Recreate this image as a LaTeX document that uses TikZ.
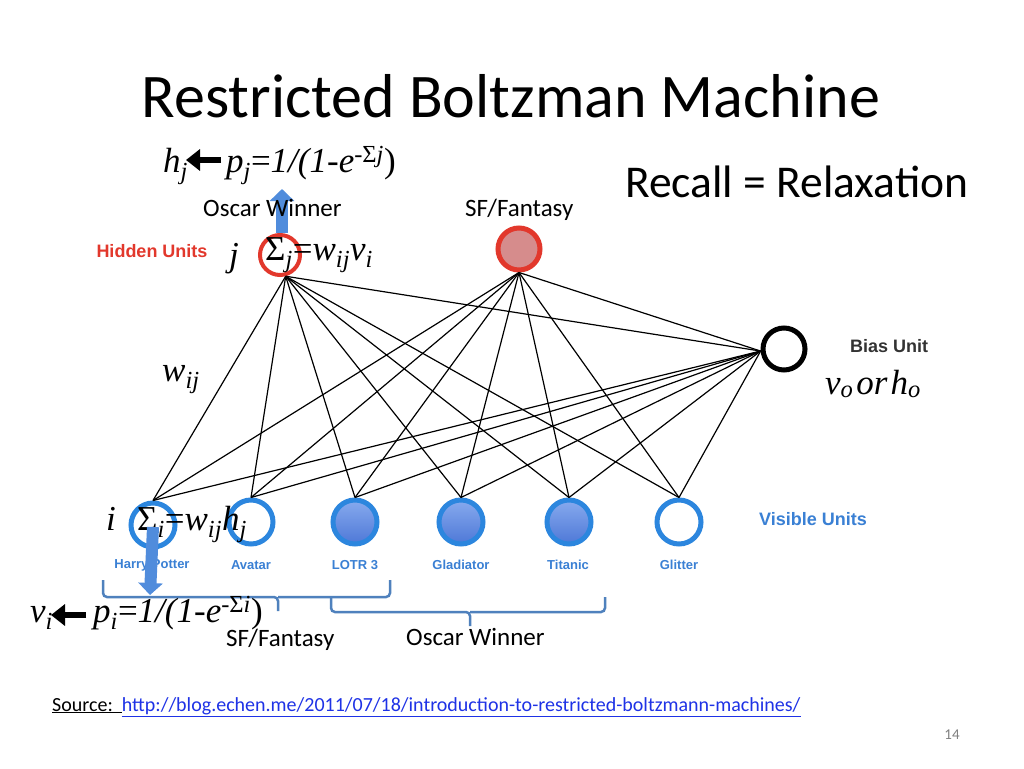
\documentclass[tikz,border=0pt]{standalone}
\usepackage{fontspec}
\setmainfont{Carlito}
\newfontfamily\tms{Liberation Serif}
\newfontfamily\arl{Liberation Sans}
\usetikzlibrary{arrows.meta}
\definecolor{hidred}{RGB}{226,56,44}
\definecolor{sfpink}{RGB}{214,140,140}
\definecolor{visring}{RGB}{44,134,222}
\definecolor{vtop}{RGB}{135,170,238}
\definecolor{vbot}{RGB}{78,120,215}
\definecolor{lblblue}{RGB}{58,128,212}
\definecolor{brack}{RGB}{79,129,189}
\definecolor{arrblue}{RGB}{80,140,220}
\definecolor{urlblue}{RGB}{30,50,230}
\newcommand\mysub[1]{\textsubscript{#1}}
\newcommand\mysup[1]{\textsuperscript{#1}}
\begin{document}
\begin{tikzpicture}[x=1pt,y=-1pt,
  hid/.style={circle,draw=hidred,line width=4pt,fill=white,minimum size=40pt,inner sep=0pt},
  sfnode/.style={circle,draw=hidred,line width=5pt,fill=sfpink,minimum size=42pt,inner sep=0pt},
  biasnode/.style={circle,draw=black,line width=5pt,fill=white,minimum size=42pt,inner sep=0pt},
  visempty/.style={circle,draw=visring,line width=5pt,fill=white,minimum size=44pt,inner sep=0pt},
  visfull/.style={circle,draw=visring,line width=5pt,top color=vtop,bottom color=vbot,minimum size=44pt,inner sep=0pt},
  edge/.style={draw=black,line width=1.2pt},
  frm/.style={font=\tms\fontsize{35}{40}\selectfont\itshape,inner sep=0pt,anchor=base west},
  movie/.style={font=\arl\bfseries\fontsize{13}{15}\selectfont,text=lblblue,inner sep=0pt},
  unitlbl/.style={font=\arl\bfseries\fontsize{18}{20}\selectfont,inner sep=0pt},
  captxt/.style={font=\fontsize{25}{28}\selectfont,inner sep=0pt,anchor=base west},
  blk/.style={line width=6pt,-{Triangle[width=21pt,length=14pt]}},
  bluarrow/.style={draw=arrblue,line width=12pt,-{Triangle[width=24pt,length=12pt]}},
  brace/.style={draw=brack,line width=2.5pt,rounded corners=4pt}
]
\fill[white] (0,0) rectangle (1024,768);
\useasboundingbox (0,0) rectangle (1024,768);

% title and headings
\node[font=\fontsize{62}{70}\selectfont,inner sep=0pt,anchor=base] (title) at (511,117) {Restricted Boltzman Machine};
\node[font=\fontsize{45.5}{50}\selectfont,inner sep=0pt,anchor=base west] (recall) at (625,197) {Recall = Relaxation};

% hidden, bias and visible units
\node[hid] (j) at (280,255) {};
\node[sfnode] (sf) at (519,249) {};
\node[biasnode] (bias) at (784,349) {};
\node[visempty] (v1) at (153,525) {};
\node[visempty] (v2) at (251,522) {};
\node[visfull] (v3) at (355,522) {};
\node[visfull] (v4) at (461,522) {};
\node[visfull] (v5) at (569,522) {};
\node[visempty] (v6) at (679,522) {};

% connections
\foreach \i in {1,...,6}{
  \draw[edge] (j.-75) -- (v\i.north);
  \draw[edge] (sf.south) -- (v\i.north);
  \draw[edge] (bias.185) -- (v\i.north);
}
\draw[edge] (j.-75) -- (bias.185);
\draw[edge] (sf.south) -- (bias.185);

% up arrow from hidden unit
\coordinate (jtip) at (282,189);
\draw[bluarrow] ([xshift=2pt]j.north) -- (jtip);

% captions
\node[captxt] (osc1) at (203,216) {Oscar Winner};
\node[captxt] (sf1) at (465,216) {SF/Fantasy};
\node[unitlbl,text=hidred] (hidlbl) at (152,251) {Hidden Units};
\node[unitlbl,text=black!80] (biaslbl) at (889,346) {Bias Unit};
\node[unitlbl,text=lblblue] (vislbl) at (813,519) {Visible Units};

\node[movie] (m1) at (152,565) {Harry Potter};
\node[movie] (m2) at (251,565) {Avatar};
\node[movie] (m3) at (355,565) {LOTR 3};
\node[movie] (m4) at (461,565) {Gladiator};
\node[movie] (m5) at (568,565) {Titanic};
\node[movie] (m6) at (679,565) {Glitter};

% formulas
\node[frm] (hj) at (163,172) {h\mysub{j}};
\node[frm] (pj) at (226,172) {p\mysub{j}{\upshape =}1/(1-e\mysup{-{\upshape Σ}j}{\upshape )}};
\coordinate (ta1) at (221,160);
\coordinate (ta2) at (186,160);
\draw[blk] (ta1) -- (ta2);
\node[frm] (jl) at (229,266) {j};
\node[frm] (sigj) at (265,260) {{\upshape Σ}\mysub{j}{\upshape =}w\mysub{ij}v\mysub{i}};
\node[frm] (wij) at (162,381) {w\mysub{ij}};
\node[frm] (vo) at (825,394) {v\mysub{o}\hspace{3pt}or\hspace{3pt}h\mysub{o}};
\node[frm] (il) at (106,530) {i};
\node[frm] (sigi) at (137,530) {{\upshape Σ}\mysub{i}{\upshape =}w\mysub{ij}h\mysub{j}};

% down arrow from visible unit
\coordinate (vtip) at (150,595);
\draw[bluarrow] ([yshift=-2pt]v1.center) -- (vtip);

% braces
\draw[brace] (103,580) |- (278,597) -- (278,611);
\draw[brace] (278,597) -| (390,580);
\draw[brace] (331,597) |- (470,612) -- (470,626);
\draw[brace] (470,612) -| (605,597);

\node[frm] (vi) at (30,622) {v\mysub{i}};
\node[frm] (pi) at (93,622) {p\mysub{i}{\upshape =}1/(1-e\mysup{-{\upshape Σ}i}{\upshape )}};
\coordinate (ba1) at (86,615);
\coordinate (ba2) at (51,615);
\draw[blk] (ba1) -- (ba2);

\node[captxt] (sf2) at (226,646) {SF/Fantasy};
\node[captxt] (osc2) at (406,645) {Oscar Winner};

% source and page number
\node[font=\fontsize{20}{23}\selectfont,inner sep=0pt,anchor=base west] (src) at (52,711) {\underline{Source:\ \ }{\color{urlblue}\underline{http://blog.echen.me/2011/07/18/introduction-to-restricted-boltzmann-machines/}}};
\node[font=\fontsize{15}{17}\selectfont,text=black!50,inner sep=0pt,anchor=base] (pg) at (952,739) {14};
\end{tikzpicture}
\end{document}
